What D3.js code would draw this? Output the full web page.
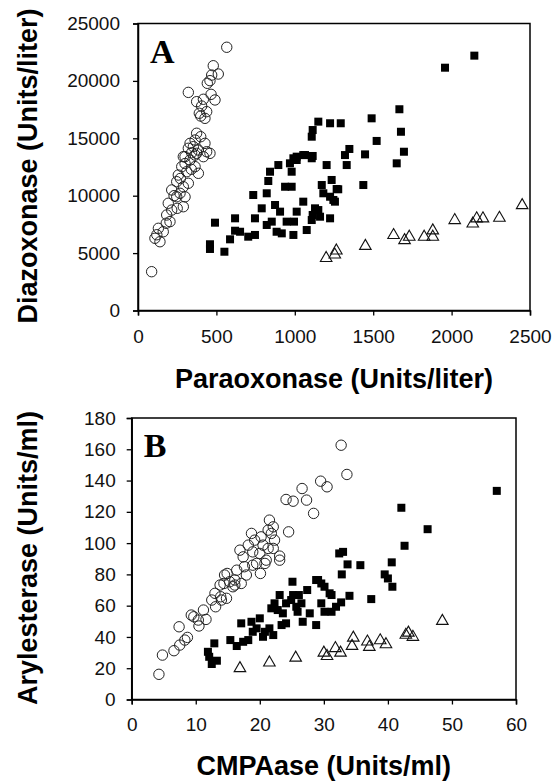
<!DOCTYPE html>
<html><head><meta charset="utf-8">
<script src="https://cdn.jsdelivr.net/npm/d3@7"></script>
<style>
html,body{margin:0;padding:0;background:#fff;}
svg{display:block;}
</style></head>
<body>
<svg id="chart" width="556" height="781"></svg>
<script>
// ---------- Panel A data: Paraoxonase (x) vs Diazoxonase (y) ----------
const aXTicks = [0, 500, 1000, 1500, 2000, 2500];
const aYTicks = [0, 5000, 10000, 15000, 20000, 25000];
const aCircles = [[566,22930],[480,21320],[512,20600],[470,20510],[459,20020],[442,19790],[321,19000],[466,18830],[491,18340],[374,18190],[417,18400],[406,17810],[438,17320],[391,17180],[427,16740],[400,16940],[374,15440],[400,15140],[364,14850],[427,14560],[332,14560],[353,14270],[321,14130],[385,13980],[438,13830],[300,13400],[364,13540],[342,13740],[374,13690],[459,13690],[289,13400],[417,13400],[332,13110],[279,12530],[364,12530],[311,12090],[385,11950],[257,11800],[247,11220],[321,11080],[289,10780],[215,10500],[268,10210],[247,9910],[193,9340],[289,9040],[215,8750],[183,8320],[204,7740],[130,7160],[161,6860],[108,6290],[140,5990],[87,3380],[300,12800],[340,12300],[270,11500],[230,10000],[300,9900],[250,8900],[180,7600],[120,6600]];
const aSquares = [[491,7650],[459,5770],[459,5360],[551,5120],[587,6200],[619,8030],[619,6950],[651,6860],[703,6430],[746,6580],[746,8030],[735,10060],[789,8900],[821,10210],[831,11280],[842,12090],[895,12670],[821,7450],[853,7740],[874,9190],[884,6860],[906,8610],[917,6720],[938,10780],[948,7740],[969,12820],[980,10780],[991,6580],[995,7740],[980,12090],[991,13260],[1012,13110],[1054,13540],[1108,13260],[1012,8610],[1054,9480],[1076,7010],[1108,7880],[1129,8900],[1150,8750],[1114,8320],[1161,8170],[1172,10930],[1182,10210],[1203,12670],[1225,9910],[1235,11370],[1246,9630],[1277,10560],[1225,8030],[1320,13540],[1331,12670],[1150,16450],[1225,16310],[1293,16310],[1114,15720],[1108,15140],[1012,13400],[1065,13540],[1114,13460],[1958,21150],[2145,22200],[1667,17530],[1490,16740],[1677,15570],[1522,14770],[1696,13830],[1348,14070],[1448,13600],[1650,12820],[1437,10930],[1267,10580],[1256,9480]];
const aTriangles = [[1200,4650],[1255,4950],[1265,5300],[1450,5700],[1630,6650],[1700,6200],[1730,6500],[1825,6500],[1880,6500],[1880,7050],[2020,7950],[2135,7650],[2160,8100],[2200,8100],[2305,8150],[2450,9250]];

// ---------- Panel B data: CMPAase (x) vs Arylesterase (y) ----------
const bXTicks = [0, 10, 20, 30, 40, 50, 60];
const bYTicks = [0, 20, 40, 60, 80, 100, 120, 140, 160, 180];
const bCircles = [[4.25,16.1],[4.8,28.4],[6.6,31.2],[7.5,34.8],[7.4,46.5],[8.7,39.7],[8.3,38],[9.7,52.9],[10.4,50.8],[10.5,47],[11.2,57.2],[11.6,51.2],[12.5,63.6],[13,67.9],[13.1,59.3],[14,63.6],[14.4,74.2],[13.9,65.7],[14.9,80.6],[15.8,72.1],[16.4,82.7],[16.1,76.4],[17.1,74.2],[17.9,79.6],[17.6,84.9],[18.9,85.9],[20.1,80.6],[20.8,87],[23.1,89.1],[9.3,54],[13.8,73.2],[14.8,64.7],[14.5,79.6],[15.3,75.3],[16.1,73.2],[16.9,95.5],[17.4,91.2],[18.2,98.7],[18.7,106.2],[18.9,94.4],[19.5,87],[19.2,101.9],[20,93.4],[20.2,104],[20.5,98.7],[21,89.1],[21.3,108.3],[21.5,114.7],[21.8,106.2],[22.1,110.4],[22.3,101.9],[21.3,96.6],[23.1,91.7],[22.1,96.6],[24.5,107.2],[24.1,127.9],[25.2,126.8],[26.6,134.9],[27.3,127.5],[28.4,119],[29.5,139.6],[30.5,136],[32.7,162.6],[33.6,143.9]];
const bSquares = [[11.9,30.5],[12.1,27.3],[12.5,22.7],[12.9,35.9],[13.3,24.8],[15.4,38],[16.4,34.2],[17.1,48.7],[17.4,36.9],[18.2,38],[18.7,49.7],[18.9,43.3],[19.5,45.5],[20,51.9],[20.5,40.1],[20.8,43.3],[21.5,45.5],[22.1,41.2],[21.8,58.3],[22.3,61.5],[23.1,66.8],[22.8,57.2],[23.6,55.1],[23.4,47.6],[24.1,48.7],[24.1,61.5],[24.9,63.6],[25.1,75.3],[25.2,66.8],[25.7,59.3],[26.1,66.8],[25.9,56.1],[26.5,61.5],[26.7,49.7],[27.4,70],[27.8,55.1],[28.8,76.4],[28.8,47.6],[29.1,76.4],[30.9,67.9],[32.4,93.4],[57,133.4],[42.1,122.6],[46.2,108.9],[42.6,98.3],[33,94.4],[33.7,86.4],[35.7,85.9],[40.6,87.7],[32.8,80],[39.5,80],[40,77.4],[40.7,72.1],[30.1,72.1],[31.2,66.8],[34,66.3],[37.4,64.2],[32.7,62.1],[31.9,59.3],[31.2,56.1],[30.1,56.1],[29.6,61.5],[29.6,74.2]];
const bTriangles = [[16.9,20.6],[21.5,24.2],[25.6,27.3],[30,30.5],[30.5,28.4],[31.8,33.4],[32.6,30.5],[34.4,34.8],[34.6,40.1],[36.8,37.6],[37.1,34.2],[38.8,38.4],[39.7,35.9],[42.8,41.9],[43.2,43.3],[43.9,40.6],[48.5,50.8]];

const svg = d3.select("#chart");
const SANS = "'Liberation Sans', Arial, sans-serif";
const SERIF = "'Liberation Serif', 'Times New Roman', serif";

function panel(cfg) {
  const x = d3.scaleLinear().domain(cfg.xDomain).range([cfg.left, cfg.right]);
  const y = d3.scaleLinear().domain(cfg.yDomain).range([cfg.bottom, cfg.top]);
  const g = svg.append("g");

  // frame
  g.append("rect").attr("x", cfg.left).attr("y", cfg.top)
    .attr("width", cfg.right - cfg.left).attr("height", cfg.bottom - cfg.top)
    .attr("fill", "none").attr("stroke", "#000").attr("stroke-width", 1.5);

  const xAxis = g.append("g").attr("transform", `translate(0,${cfg.bottom})`)
    .call(d3.axisBottom(x).tickValues(cfg.xTicks).tickSize(5).tickPadding(cfg.xPad).tickFormat(d3.format("d")));
  const yAxis = g.append("g").attr("transform", `translate(${cfg.left},0)`)
    .call(d3.axisLeft(y).tickValues(cfg.yTicks).tickSize(5).tickPadding(cfg.yPad).tickFormat(d3.format("d")));
  [xAxis, yAxis].forEach(a => {
    a.select(".domain").attr("stroke", "#000").attr("stroke-width", 1.5);
    a.selectAll(".tick line").attr("stroke", "#000").attr("stroke-width", 1.3);
    a.selectAll(".tick text").attr("fill", "#111").style("font-family", SANS).style("font-size", cfg.tickFont + "px");
  });

  // series
  g.append("g").selectAll("rect").data(cfg.squares).join("rect")
    .attr("x", d => x(d[0]) - 4).attr("y", d => y(d[1]) - 4)
    .attr("width", 8).attr("height", 8).attr("fill", "#000");
  g.append("g").selectAll("circle").data(cfg.circles).join("circle")
    .attr("cx", d => x(d[0])).attr("cy", d => y(d[1])).attr("r", 5.2)
    .attr("fill", "none").attr("stroke", "#222").attr("stroke-width", 1);
  const tri = d3.symbol().type(d3.symbolTriangle).size(58);
  g.append("g").selectAll("path").data(cfg.triangles).join("path")
    .attr("d", tri).attr("transform", d => `translate(${x(d[0])},${y(d[1]) + 1})`)
    .attr("fill", "none").attr("stroke", "#111").attr("stroke-width", 1.1);

  // panel letter
  g.append("text").attr("x", cfg.left + 12).attr("y", cfg.top + 39)
    .text(cfg.letter).style("font-family", SERIF).style("font-weight", "bold")
    .style("font-size", "34px").attr("fill", "#000");

  // axis titles
  g.append("text").attr("x", (cfg.left + cfg.right) / 2).attr("y", cfg.xTitleY)
    .attr("text-anchor", "middle").text(cfg.xTitle)
    .style("font-family", SANS).style("font-weight", "bold").style("font-size", "27px").attr("fill", "#000");
  g.append("text").attr("transform", `translate(${cfg.yTitleX},${cfg.yTitleCY}) rotate(-90)`)
    .attr("text-anchor", "middle").text(cfg.yTitle)
    .style("font-family", SANS).style("font-weight", "bold").style("font-size", "27px").attr("fill", "#000");
}

panel({
  xDomain: [0, 2500], yDomain: [0, 25000],
  left: 138, right: 530, top: 23.5, bottom: 310.5,
  xTicks: aXTicks, yTicks: aYTicks, xPad: 14, yPad: 13, tickFont: 19,
  circles: aCircles, squares: aSquares, triangles: aTriangles,
  letter: "A", xTitle: "Paraoxonase (Units/liter)", yTitle: "Diazoxonase (Units/liter)",
  xTitleY: 388, yTitleX: 37, yTitleCY: 166
});
panel({
  xDomain: [0, 60], yDomain: [0, 180],
  left: 131.7, right: 516, top: 418, bottom: 699.5,
  xTicks: bXTicks, yTicks: bYTicks, xPad: 13, yPad: 11, tickFont: 19,
  circles: bCircles, squares: bSquares, triangles: bTriangles,
  letter: "B", xTitle: "CMPAase (Units/ml)", yTitle: "Arylesterase (Units/ml)",
  xTitleY: 775, yTitleX: 37, yTitleCY: 558
});
</script>
</body></html>
